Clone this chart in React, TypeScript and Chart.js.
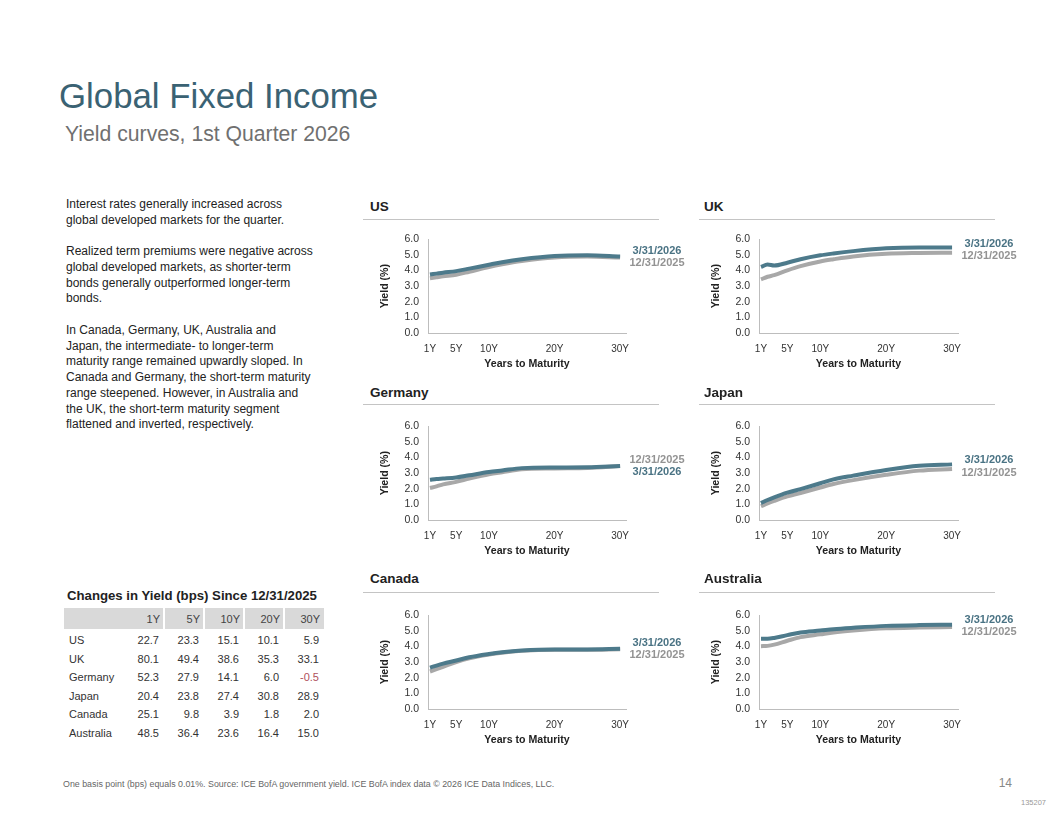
import React, { useEffect, useRef } from "react";
import { Chart, registerables } from "chart.js";
Chart.register(...registerables);

// ---------- DATA ----------
const maturities = [1, 2, 3, 5, 7, 10, 12, 15, 20, 25, 30];
const xTickYears = [1, 5, 10, 20, 30];
const seriesLabels = ["3/31/2026", "12/31/2025"];

const usMar26 = [3.74, 3.8, 3.86, 3.96, 4.12, 4.37, 4.53, 4.72, 4.93, 4.97, 4.89];
const usDec25 = [3.51, 3.57, 3.63, 3.73, 3.92, 4.22, 4.39, 4.6, 4.83, 4.89, 4.83];
const ukMar26 = [4.23, 4.38, 4.32, 4.5, 4.72, 4.97, 5.09, 5.24, 5.42, 5.47, 5.47];
const ukDec25 = [3.43, 3.6, 3.7, 4.01, 4.28, 4.58, 4.72, 4.9, 5.07, 5.12, 5.14];
const deMar26 = [2.57, 2.62, 2.65, 2.72, 2.86, 3.07, 3.17, 3.32, 3.36, 3.37, 3.45];
const deDec25 = [2.05, 2.15, 2.28, 2.44, 2.65, 2.93, 3.06, 3.24, 3.3, 3.33, 3.455];
const jpMar26 = [1.08, 1.28, 1.45, 1.75, 1.98, 2.35, 2.6, 2.84, 3.2, 3.47, 3.56];
const jpDec25 = [0.88, 1.06, 1.22, 1.51, 1.73, 2.08, 2.3, 2.55, 2.89, 3.16, 3.27];
const caMar26 = [2.65, 2.78, 2.9, 3.1, 3.31, 3.52, 3.63, 3.74, 3.81, 3.81, 3.85];
const caDec25 = [2.4, 2.55, 2.7, 3.0, 3.24, 3.48, 3.6, 3.72, 3.79, 3.79, 3.83];
const auMar26 = [4.5, 4.5, 4.55, 4.73, 4.9, 5.02, 5.11, 5.2, 5.32, 5.37, 5.39];
const auDec25 = [4.02, 4.04, 4.12, 4.37, 4.6, 4.78, 4.9, 5.02, 5.16, 5.21, 5.24];

const tableTenors = ["1Y", "5Y", "10Y", "20Y", "30Y"];
const tableCountries = ["US", "UK", "Germany", "Japan", "Canada", "Australia"];
const chgUS = [22.7, 23.3, 15.1, 10.1, 5.9];
const chgUK = [80.1, 49.4, 38.6, 35.3, 33.1];
const chgDE = [52.3, 27.9, 14.1, 6.0, -0.5];
const chgJP = [20.4, 23.8, 27.4, 30.8, 28.9];
const chgCA = [25.1, 9.8, 3.9, 1.8, 2.0];
const chgAU = [48.5, 36.4, 23.6, 16.4, 15.0];
const tableRows = [chgUS, chgUK, chgDE, chgJP, chgCA, chgAU];

const paragraphLines = [
  "Interest rates generally increased across",
  "global developed markets for the quarter.",
  "",
  "Realized term premiums were negative across",
  "global developed markets, as shorter-term",
  "bonds generally outperformed longer-term",
  "bonds.",
  "",
  "In Canada, Germany, UK, Australia and",
  "Japan, the intermediate- to longer-term",
  "maturity range remained upwardly sloped. In",
  "Canada and Germany, the short-term maturity",
  "range steepened. However, in Australia and",
  "the UK, the short-term maturity segment",
  "flattened and inverted, respectively.",
];

// ---------- STYLE ----------
const FF = '"Liberation Sans", Arial, sans-serif';
const NARROW = '"Liberation Sans Narrow", "Liberation Sans", Arial, sans-serif';
const TEAL = "#4d7a8b";
const TEAL_LABEL = "#4a7384";
const GRAY = "#a8a8a8";
const GRAY_LABEL = "#939393";

const Y_AXIS_W = 63;
const PAD_TOP = 13;
const PAD_RIGHT = 74;
const X_AXIS_H = 43;

const endLabels = {
  id: "endLabels",
  afterDatasetsDraw(chart: any) {
    const { ctx, chartArea } = chart;
    const items = chart.data.datasets.map((ds: any, i: number) => {
      const meta = chart.getDatasetMeta(i);
      const pt = meta.data[meta.data.length - 1];
      return { y: pt.y, text: ds.label, color: ds.labelColor };
    });
    items.sort((a: any, b: any) => a.y - b.y);
    const gap = 12.5;
    if (items.length === 2 && items[1].y - items[0].y < gap) {
      const m = (items[0].y + items[1].y) / 2;
      items[0].y = m - gap / 2;
      items[1].y = m + gap / 2;
    }
    ctx.save();
    ctx.font = `bold 11px ${FF}`;
    ctx.textAlign = "center";
    ctx.textBaseline = "middle";
    items.forEach((it: any) => {
      ctx.fillStyle = it.color;
      ctx.fillText(it.text, chartArea.right + 31, it.y);
    });
    ctx.restore();
  },
};

function YieldChart(props: { mar: number[]; dec: number[]; plotLeft: number; plotTop: number; plotW: number; plotH: number }) {
  const ref = useRef<HTMLCanvasElement | null>(null);
  const W = Y_AXIS_W + props.plotW + PAD_RIGHT;
  const H = PAD_TOP + props.plotH + X_AXIS_H;
  useEffect(() => {
    if (!ref.current) return;
    const chart = new Chart(ref.current, {
      type: "line",
      data: {
        datasets: [
          {
            label: seriesLabels[0],
            data: maturities.map((m, i) => ({ x: m, y: props.mar[i] })),
            borderColor: TEAL,
            borderWidth: 4,
            pointRadius: 0,
            cubicInterpolationMode: "monotone",
            labelColor: TEAL_LABEL,
          } as any,
          {
            label: seriesLabels[1],
            data: maturities.map((m, i) => ({ x: m, y: props.dec[i] })),
            borderColor: GRAY,
            borderWidth: 4,
            pointRadius: 0,
            cubicInterpolationMode: "monotone",
            labelColor: GRAY_LABEL,
          } as any,
        ],
      },
      options: {
        animation: false,
        responsive: false,
        devicePixelRatio: 1,
        layout: { padding: { top: PAD_TOP, right: PAD_RIGHT, left: 0, bottom: 0 } },
        plugins: { legend: { display: false }, tooltip: { enabled: false } },
        scales: {
          x: {
            type: "linear",
            min: 0.7,
            max: 30.9,
            grid: { display: false, drawTicks: false },
            border: { display: true, color: "#bdbdbd", width: 1 },
            afterBuildTicks: (scale: any) => {
              scale.ticks = xTickYears.map((v) => ({ value: v }));
            },
            afterFit: (scale: any) => {
              scale.height = X_AXIS_H;
            },
            ticks: {
              autoSkip: false,
              maxRotation: 0,
              padding: 10,
              color: "#333",
              font: { family: NARROW, size: 10 },
              callback: (v: any) => `${v}Y`,
            },
            title: {
              display: true,
              text: "Years to Maturity",
              color: "#222",
              font: { family: FF, size: 10.6, weight: "bold" },
              padding: { top: 0, bottom: 6 },
            },
          },
          y: {
            min: 0,
            max: 6,
            grid: { display: false, drawTicks: false },
            border: { display: true, color: "#bdbdbd", width: 1 },
            afterFit: (scale: any) => {
              scale.width = Y_AXIS_W;
            },
            ticks: {
              stepSize: 1,
              autoSkip: false,
              padding: 9,
              color: "#333",
              font: { family: FF, size: 10.5, lineHeight: 1 },
              callback: (v: any) => Number(v).toFixed(1),
            },
            title: {
              display: true,
              text: "Yield (%)",
              color: "#222",
              font: { family: FF, size: 10.6, weight: "bold" },
              padding: { top: 14, bottom: 0 },
            },
          },
        },
      } as any,
      plugins: [endLabels],
    });
    return () => chart.destroy();
  }, []);
  return (
    <canvas
      ref={ref}
      width={W}
      height={H}
      style={{ position: "absolute", left: props.plotLeft - Y_AXIS_W, top: props.plotTop - PAD_TOP, width: W, height: H }}
    />
  );
}

function Txt(props: { x: number; cy: number; lh: number; size: number; color: string; bold?: boolean; children: any; align?: string; w?: number }) {
  const style: any = {
    position: "absolute",
    top: props.cy - props.lh / 2,
    height: props.lh,
    lineHeight: `${props.lh}px`,
    fontSize: props.size,
    color: props.color,
    fontWeight: props.bold ? "bold" : "normal",
    whiteSpace: "pre",
    fontFamily: FF,
  };
  if (props.align === "right") {
    style.left = props.x - (props.w || 100);
    style.width = props.w || 100;
    style.textAlign = "right";
  } else {
    style.left = props.x;
  }
  return <div style={style}>{props.children}</div>;
}

function Panel(props: { title: string; col: number; row: number; mar: number[]; dec: number[] }) {
  const plotLeft = props.col === 0 ? 428 : 759;
  const plotW = props.col === 0 ? 198 : 199;
  const plotTop = [238, 425, 613.5][props.row];
  const headerCy = [207, 392.5, 579][props.row];
  const lineY = [219, 404, 592][props.row];
  const lineX0 = props.col === 0 ? 363 : 699;
  const textX = props.col === 0 ? 370 : 704;
  return (
    <>
      <Txt x={textX} cy={headerCy} lh={16} size={13.5} color="#222" bold>
        {props.title}
      </Txt>
      <div style={{ position: "absolute", left: lineX0, top: lineY, width: 296, height: 1, background: "#c4c4c4" }} />
      <YieldChart mar={props.mar} dec={props.dec} plotLeft={plotLeft} plotTop={plotTop} plotW={plotW} plotH={95} />
    </>
  );
}

export default function App() {
  const colRights = [159, 199, 239, 279, 319];
  const rowCy = [640, 658.5, 677, 695.5, 714, 732.5];
  return (
    <div style={{ position: "absolute", left: 0, top: 0, width: 1056, height: 816, overflow: "hidden", background: "#fff", fontFamily: FF }}>
      <Txt x={59} cy={96} lh={40} size={34.8} color="#3a6273">
        Global Fixed Income
      </Txt>
      <Txt x={65} cy={133.5} lh={24} size={21.2} color="#707070">
        Yield curves, 1st Quarter 2026
      </Txt>

      {paragraphLines.map((l, i) => (
        <Txt key={i} x={66} cy={205 + i * 15.72} lh={15.7} size={12} color="#222">
          {l}
        </Txt>
      ))}

      {/* table */}
      <Txt x={67} cy={596} lh={16} size={13.2} color="#222" bold>
        Changes in Yield (bps) Since 12/31/2025
      </Txt>
      <div style={{ position: "absolute", left: 64, top: 608, width: 260, height: 21, background: "#d9d9d9" }} />
      {[164, 204, 244, 284].map((x) => (
        <div key={x} style={{ position: "absolute", left: x - 1, top: 608, width: 2, height: 21, background: "#fff" }} />
      ))}
      {tableTenors.map((t, j) => (
        <Txt key={t} x={colRights[j] + 1} cy={618.5} lh={14} size={11} color="#444" align="right" w={36}>
          {t}
        </Txt>
      ))}
      {tableCountries.map((c, i) => (
        <React.Fragment key={c}>
          <Txt x={69} cy={rowCy[i]} lh={14} size={11} color="#333">
            {c}
          </Txt>
          {tableRows[i].map((v, j) => (
            <Txt key={j} x={colRights[j]} cy={rowCy[i]} lh={14} size={11} color={v < 0 ? "#b0505c" : "#333"} align="right" w={38}>
              {v.toFixed(1)}
            </Txt>
          ))}
        </React.Fragment>
      ))}

      <Panel title="US" col={0} row={0} mar={usMar26} dec={usDec25} />
      <Panel title="UK" col={1} row={0} mar={ukMar26} dec={ukDec25} />
      <Panel title="Germany" col={0} row={1} mar={deMar26} dec={deDec25} />
      <Panel title="Japan" col={1} row={1} mar={jpMar26} dec={jpDec25} />
      <Panel title="Canada" col={0} row={2} mar={caMar26} dec={caDec25} />
      <Panel title="Australia" col={1} row={2} mar={auMar26} dec={auDec25} />

      <Txt x={63} cy={784} lh={12} size={8.85} color="#666">
        One basis point (bps) equals 0.01%. Source: ICE BofA government yield. ICE BofA index data © 2026 ICE Data Indices, LLC.
      </Txt>
      <Txt x={1012} cy={782.5} lh={16} size={12} color="#888" align="right" w={40}>
        14
      </Txt>
      <Txt x={1046} cy={803} lh={10} size={7.5} color="#999" align="right" w={40}>
        135207
      </Txt>
    </div>
  );
}
